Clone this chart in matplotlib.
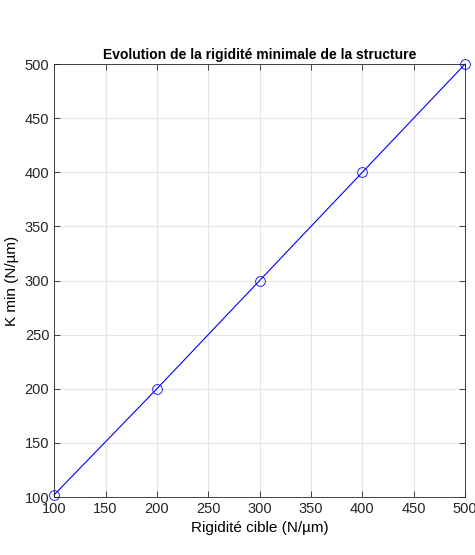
import matplotlib.pyplot as plt

# ---------- DATA ----------
rigidite_cible = [100, 200, 300, 400, 500]
k_min = [102, 200, 300, 400, 500]
x_ticks = [100, 150, 200, 250, 300, 350, 400, 450, 500]
y_ticks = [100, 150, 200, 250, 300, 350, 400, 450, 500]

plt.rcParams['font.family'] = ['Liberation Sans', 'DejaVu Sans']

# ---------- PLOT ----------
fig = plt.figure(figsize=(4.75, 5.55), dpi=100)
ax = fig.add_axes([0.114, 0.1045, 0.865, 0.780])

ax.plot(rigidite_cible, k_min, color='blue', linewidth=0.8,
        marker='o', markersize=7, markerfacecolor='none',
        markeredgewidth=0.6, clip_on=False)

ax.set_xlim(100, 500)
ax.set_ylim(100, 500)
ax.set_xticks(x_ticks)
ax.set_yticks(y_ticks)
ax.tick_params(direction='in', top=True, right=True, labelsize=10.5,
               length=4, width=0.6, colors='#262626')
for s in ax.spines.values():
    s.set_color('#262626')
    s.set_linewidth(0.6)
ax.grid(True, color='#e6e6e6', linewidth=0.8)
ax.set_axisbelow(True)

ax.set_title("Evolution de la rigidité minimale de la structure",
             fontsize=10, fontweight='bold', pad=4)
ax.set_xlabel("Rigidité cible (N/µm)", fontsize=11, labelpad=4)
ax.set_ylabel("K min (N/µm)", fontsize=11, labelpad=4)

fig.savefig('out.png', dpi=100)
